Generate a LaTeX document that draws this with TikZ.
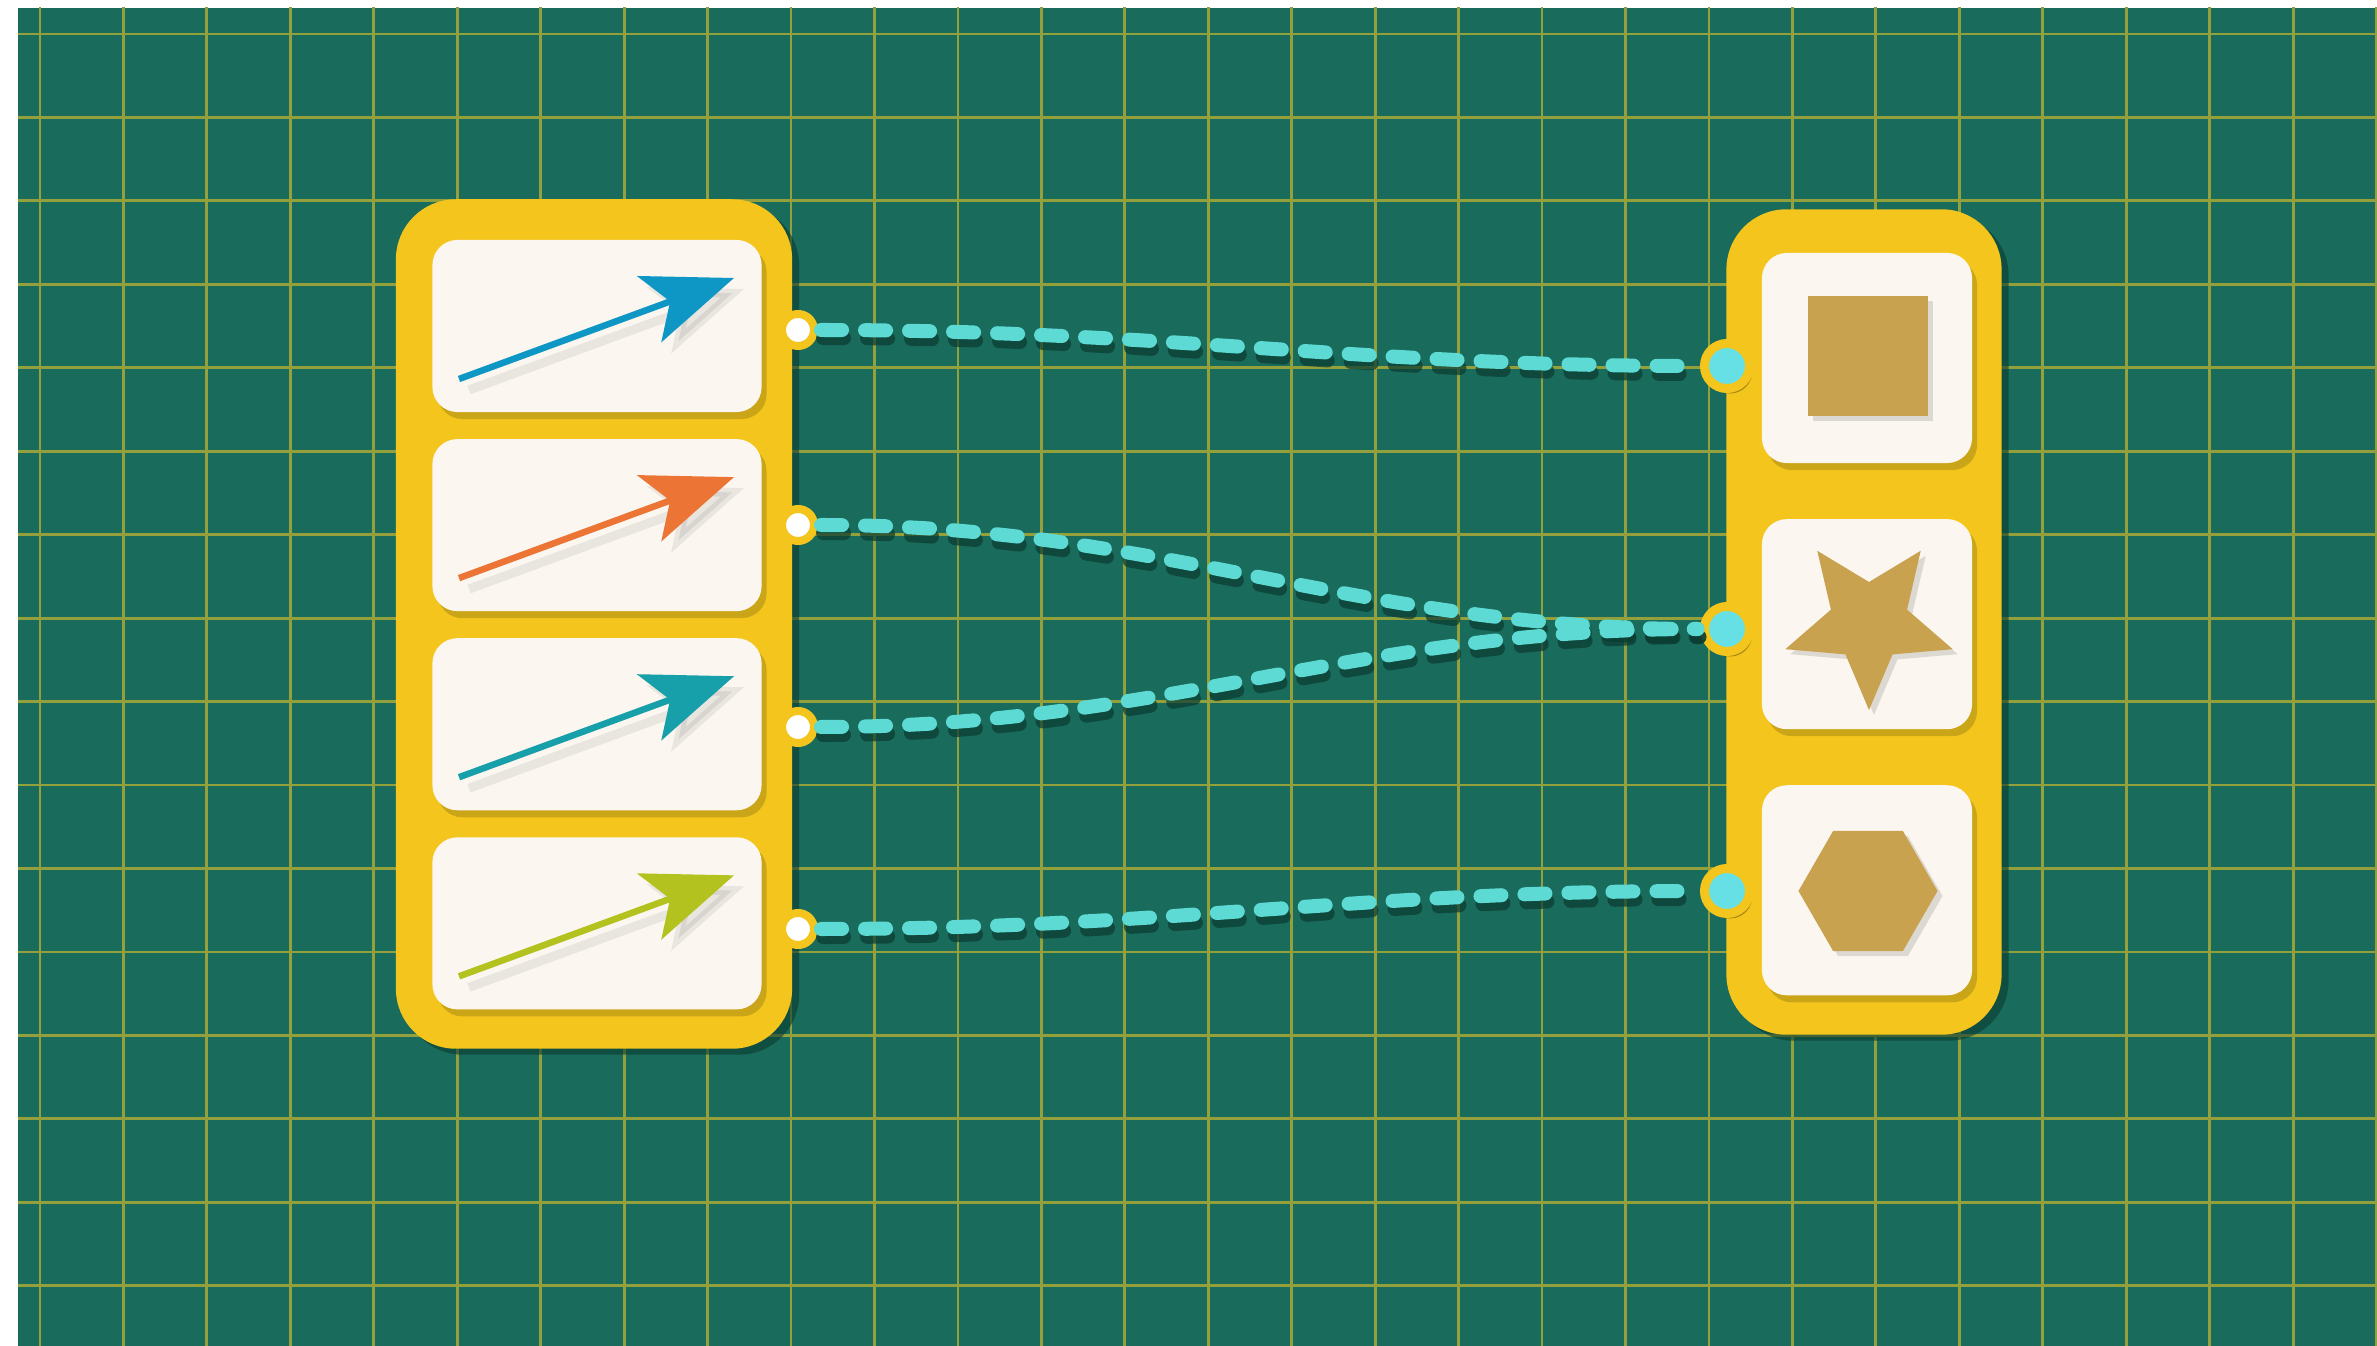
\documentclass[tikz,border=0pt]{standalone}
\usepackage{tikz}
\usetikzlibrary{positioning, arrows.meta, calc, shapes.geometric, shadows}
\definecolor{BoardGreen}{HTML}{196B5C}
\definecolor{GridOlive}{HTML}{94A03C}
\definecolor{PanelYellow}{HTML}{F3C51D}
\definecolor{CardWhite}{HTML}{FBF7F0}
\definecolor{ShapeTan}{HTML}{C9A24F}
\definecolor{WireCyan}{HTML}{5CDAD3}
\definecolor{WireShade}{HTML}{0B3B31}
\definecolor{PortCyan}{HTML}{66E0E4}
\definecolor{VecBlue}{HTML}{0E97C4}
\definecolor{VecOrange}{HTML}{EC7536}
\definecolor{VecTeal}{HTML}{17A0A9}
\definecolor{VecLime}{HTML}{B3C21F}

\tikzset{
  panel/.style={fill=PanelYellow, rounded corners=0.6cm, inner sep=0pt, outer sep=0pt,
    drop shadow={shadow xshift=0.07cm, shadow yshift=-0.06cm, fill=WireShade, opacity=0.6}},
  card/.style={fill=CardWhite, rounded corners=0.25cm, inner sep=0pt, outer sep=0pt,
    drop shadow={shadow xshift=0.05cm, shadow yshift=-0.07cm, fill=black, opacity=0.16}},
  token/.style={fill=ShapeTan, inner sep=0pt, outer sep=0pt,
    drop shadow={shadow xshift=0.05cm, shadow yshift=-0.05cm, fill=black, opacity=0.12}},
  lport/.style={circle, fill=white, draw=PanelYellow, line width=0.08cm,
    minimum size=0.32cm, inner sep=0pt, outer sep=0pt},
  rport/.style={circle, fill=PortCyan, draw=PanelYellow, line width=0.09cm,
    minimum size=0.45cm, inner sep=0pt, outer sep=0pt,
    drop shadow={shadow xshift=0.03cm, shadow yshift=-0.05cm, fill=black, opacity=0.3}},
  vec/.style={draw=#1, line width=0.065cm,
    -{Stealth[length=0.9cm, width=0.7cm, inset=0.22cm]}},
  vecshade/.style={draw=black, opacity=0.07, line width=0.09cm,
    -{Stealth[length=0.9cm, width=0.7cm, inset=0.22cm]}},
  wire/.style={draw=WireCyan, line width=0.14cm, line cap=round,
    dash pattern=on 0.21cm off 0.23cm, shorten <=0.07cm, shorten >=0.07cm},
  wireshade/.style={wire, draw=WireShade, opacity=0.7},
}

\begin{document}
\begin{tikzpicture}[x=0.01cm, y=-0.01cm]
  \useasboundingbox (0,0) rectangle (2377,1346);
  \fill[white] (0,0) rectangle (2377,1346);
  \fill[BoardGreen] (18,8) rectangle (2377,1346);
  \begin{scope}
    \clip (18,8) rectangle (2377,1346);
    \draw[GridOlive, line width=0.028cm, step=0.834cm, shift={(40,34)}]
      (-100,1400) grid (2400,-100);
  \end{scope}

  % the two holders
  \node[panel, minimum width=3.96cm, minimum height=8.49cm] (lpanel) at (594,624) {};
  \node[panel, minimum width=2.75cm, minimum height=8.25cm] (rpanel) at (1864,622) {};

  % vector cards
  \node[card, minimum width=3.29cm, minimum height=1.72cm] (v1) at (597,326) {};
  \node[card, minimum width=3.29cm, minimum height=1.72cm, below=0.27cm of v1] (v2) {};
  \node[card, minimum width=3.29cm, minimum height=1.72cm, below=0.27cm of v2] (v3) {};
  \node[card, minimum width=3.29cm, minimum height=1.72cm, below=0.27cm of v3] (v4) {};

  \draw[vecshade] ([shift={(-128,64)}]v1.center) -- ([shift={(147,-37)}]v1.center);
  \draw[vec=VecBlue] ([shift={(-138,53)}]v1.center) -- ([shift={(137,-48)}]v1.center);
  \draw[vecshade] ([shift={(-128,64)}]v2.center) -- ([shift={(147,-37)}]v2.center);
  \draw[vec=VecOrange] ([shift={(-138,53)}]v2.center) -- ([shift={(137,-48)}]v2.center);
  \draw[vecshade] ([shift={(-128,64)}]v3.center) -- ([shift={(147,-37)}]v3.center);
  \draw[vec=VecTeal] ([shift={(-138,53)}]v3.center) -- ([shift={(137,-48)}]v3.center);
  \draw[vecshade] ([shift={(-128,64)}]v4.center) -- ([shift={(147,-37)}]v4.center);
  \draw[vec=VecLime] ([shift={(-138,53)}]v4.center) -- ([shift={(137,-48)}]v4.center);

  % shape cards
  \node[card, minimum size=2.1cm] (t1) at (1867,358) {};
  \node[card, minimum size=2.1cm, below=0.56cm of t1] (t2) {};
  \node[card, minimum size=2.1cm, below=0.56cm of t2] (t3) {};

  \node[token, minimum size=1.19cm] (sq) at (1868,356) {};
  \node[token, star, star points=5, star point ratio=2.2, minimum size=1.76cm,
    shape border rotate=180] (st) at (1869,622) {};
  \node[token, regular polygon, regular polygon sides=6, minimum size=1.39cm] (hx) at (1868,891) {};

  % ports
  \node[lport] (l1) at (798,330) {};
  \node[lport] (l2) at (798,525) {};
  \node[lport] (l3) at (798,727) {};
  \node[lport] (l4) at (798,929) {};
  \node[rport] (r1) at (1727,366) {};
  \node[rport] (r2) at (1727,629) {};
  \node[rport] (r3) at (1727,891) {};

  % links
  \begin{scope}[transform canvas={shift={(0.02cm,-0.08cm)}}]
    \draw[wireshade] (l1) to[out=0, in=180] (r1);
    \draw[wireshade] (l2) to[out=0, in=180] (r2);
    \draw[wireshade] (l3) to[out=0, in=180] (r2);
    \draw[wireshade] (l4) to[out=0, in=180] (r3);
  \end{scope}
  \draw[wire] (l1) to[out=0, in=180] (r1);
  \draw[wire] (l2) to[out=0, in=180] (r2);
  \draw[wire] (l3) to[out=0, in=180] (r2);
  \draw[wire] (l4) to[out=0, in=180] (r3);
\end{tikzpicture}
\end{document}
